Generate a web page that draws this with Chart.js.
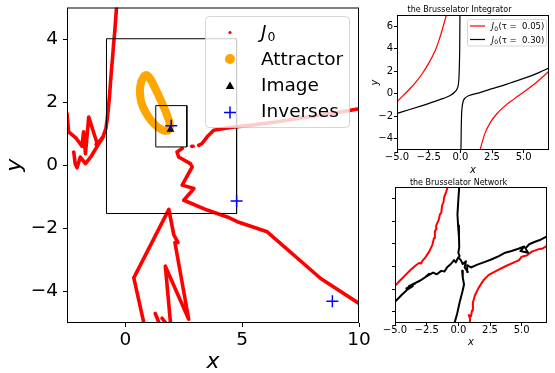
<!DOCTYPE html>
<html>
<head>
<meta charset="utf-8">
<script src="https://cdn.jsdelivr.net/npm/chart.js@4"></script>
<style>
html, body { margin: 0; padding: 0; background: #fff; }
body { width: 555px; height: 373px; position: relative; overflow: hidden; }
canvas { position: absolute; }
</style>
</head>
<body>
<canvas id="cMain" width="370" height="373" style="left:0px;top:0px;"></canvas>
<canvas id="cInt" width="185" height="175" style="left:370px;top:0px;"></canvas>
<canvas id="cNet" width="185" height="173" style="left:370px;top:174px;"></canvas>
<script>
// ---------------- data: main panel ----------------
const mainXTicks = [0, 5, 10];
const mainXTickLabels = ['0', '5', '10'];
const mainYTicks = [-4, -2, 0, 2, 4];
const mainYTickLabels = ['\u22124', '\u22122', '0', '2', '4'];
const mainLegendLabels = ['J0', 'Attractor', 'Image', 'Inverses'];

const j0UpperLeft = [[-0.38,5.0],[-0.42,4.6],[-0.46,4.2],[-0.51,3.8],[-0.55,3.4],[-0.6,3.0],[-0.64,2.6],[-0.68,2.2],[-0.73,1.8],[-0.78,1.45],[-0.84,1.15],[-0.95,0.92],[-1.1,0.76],[-1.25,0.66]];
const j0LeftZigzag = [[-2.5,1.64],[-2.43,1.06],[-2.1,0.85],[-1.86,0.6],[-1.79,1.06],[-1.71,0.37],[-1.57,1.53],[-1.21,0.69],[-1.0,0.84]];
const j0LeftLoop = [[-2.21,0.42],[-2.15,0.05],[-2.07,-0.08],[-1.93,0.26],[-1.71,0.05],[-1.45,0.3],[-1.21,0.6],[-0.95,0.9]];
const j0MiddleUpper = [[10.0,1.79],[9.3,1.7],[8.5,1.6],[7.5,1.5],[6.5,1.38],[5.5,1.28],[4.5,1.2],[3.78,1.11],[3.5,0.9],[3.28,0.69],[3.14,0.63]];
const j0MiddleDot = [[2.84,0.6],[2.9,0.6]];
const j0MiddleLower = [[2.43,0.53],[2.21,0.42],[2.28,0.26],[2.78,0.05],[2.86,-0.05],[2.43,-0.63],[2.93,-0.74],[2.5,-1.11],[3.5,-1.42],[4.36,-1.64],[4.79,-1.79],[6.07,-2.11],[8.36,-3.59],[10.0,-4.38]];
const j0Bottom = [[0.79,-5.0],[0.36,-3.57],[1.86,-1.40],[2.07,-2.2],[2.25,-2.45],[2.12,-2.45],[2.71,-4.88],[1.71,-3.2],[1.93,-5.0]];
const j0BottomBitA = [[1.28,-4.7],[1.43,-4.98]];
const j0BottomBitB = [[1.57,-4.85],[1.71,-4.98]];
const j0Segments = [j0UpperLeft, j0LeftZigzag, j0LeftLoop, j0MiddleUpper, j0MiddleDot, j0MiddleLower, j0Bottom, j0BottomBitA, j0BottomBitB];

const attractorLoop = [[0.8,2.82],[0.68,2.65],[0.62,2.35],[0.68,2.0],[0.85,1.7],[1.1,1.42],[1.4,1.2],[1.65,1.1],[1.85,1.12],[1.9,1.3],[1.78,1.6],[1.55,2.0],[1.3,2.4],[1.08,2.72],[0.92,2.86],[0.8,2.82]];
const imagePoints = [[1.93,1.13]];
const inversePoints = [[1.96,1.25],[4.76,-1.13],[8.86,-4.31]];
const bigBox = [[-0.81,4.01],[4.76,4.01],[4.76,-1.53],[-0.81,-1.53],[-0.81,4.01]];
const smallBox = [[1.3,1.89],[2.63,1.89],[2.63,0.58],[1.3,0.58],[1.3,1.89]];

// ---------------- data: integrator panel ----------------
const subXTicks = [-5, -2.5, 0, 2.5, 5];
const subXTickLabels = ['\u22125.0', '\u22122.5', '0.0', '2.5', '5.0'];
const subYTicks = [-4, -2, 0, 2, 4, 6];
const subYTickLabels = ['\u22124', '\u22122', '0', '2', '4', '6'];
const intLegendTaus = ['0.05', '0.30'];

const intRedLeft = [[-5,-0.71],[-4.5,-0.15],[-4,0.42],[-3.5,1.05],[-3,1.8],[-2.5,2.7],[-2,3.8],[-1.7,4.7],[-1.45,5.6],[-1.25,6.4],[-1.1,7.0]];
const intRedRight = [[1.55,-5],[1.95,-3.5],[2.4,-2.5],[2.87,-1.8],[3.5,-1.1],[4.2,-0.5],[5,0.15],[6,1.0],[7,2.0]];
const intBlackLeft = [[-5,-1.74],[-4,-1.4],[-3,-1.05],[-2,-0.68],[-1.34,-0.41],[-0.8,-0.15],[-0.42,0.18],[-0.25,0.45],[-0.16,0.8],[-0.11,1.4],[-0.08,2.3],[-0.05,4.0],[-0.03,7]];
const intBlackRight = [[0.05,-5],[0.07,-3.2],[0.1,-1.8],[0.15,-1.1],[0.25,-0.6],[0.37,-0.38],[0.7,-0.15],[1.55,0.1],[2.5,0.45],[3.4,0.75],[4.3,1.1],[5.24,1.45],[6.2,1.88],[7,2.3]];

// ---------------- data: network panel ----------------
const netRedLeft = [[-5,-1.72],[-4.6,-1.25],[-4.2,-0.8],[-3.8,-0.35],[-3.4,0.05],[-3.1,0.3],[-2.95,0.25],[-2.85,0.45],[-2.6,0.8],[-2.3,1.3],[-2.05,1.9],[-1.92,2.5],[-1.85,3.1],[-1.72,3.3],[-1.75,3.6],[-1.55,4.1],[-1.45,4.6],[-1.35,4.7],[-1.28,5.4],[-1.18,5.6],[-1.12,6.1],[-0.95,6.6],[-0.85,7]];
const netRedRight = [[0.85,-5],[0.92,-4.6],[0.82,-4.3],[1.0,-4.4],[1.08,-3.9],[1.15,-3.2],[1.3,-2.6],[1.6,-1.9],[2.0,-1.2],[2.4,-0.75],[3.0,-0.4],[3.8,0.05],[4.4,0.35],[4.8,0.55],[5.0,0.85],[5.4,0.95],[5.8,1.3],[6.3,1.5],[6.6,1.55],[7,1.8]];
const netBlackTop = [[0.07,7],[0.02,6.2],[-0.07,4.6],[-0.02,3.6],[0.05,2.6],[0.07,1.7],[0.0,1.2],[0.1,0.9]];
const netBlackBottom = [[0.3,-0.4],[0.35,-1.0],[0.45,-1.6],[0.33,-2.2],[0.1,-3.2],[-0.1,-4.2],[-0.3,-5]];
const netBlackAcross = [[-5,-3.12],[-4.5,-2.55],[-4.06,-2.09],[-3.6,-1.75],[-4.1,-1.95],[-3.4,-1.5],[-3.9,-1.75],[-3.0,-1.25],[-2.6,-0.95],[-2.3,-0.65],[-2.55,-0.9],[-2.0,-0.55],[-1.7,-0.7],[-1.35,-0.4],[-1.1,-0.45],[-0.86,-0.05],[-0.55,0.25],[-0.34,0.55],[-0.2,0.35],[0.0,0.8],[0.2,0.55],[0.35,0.2],[0.6,0.45],[0.5,-0.1],[0.75,-0.5],[0.7,0.1],[1.0,-0.1],[1.5,0.15],[2.0,0.35],[2.6,0.6],[3.2,0.9],[3.7,1.2],[4.2,1.35],[4.74,1.55],[5.2,1.75],[4.9,1.35],[5.5,1.2],[5.3,1.6],[5.6,1.95],[6.0,2.15],[6.5,2.35],[7,2.65]];

// ---------------- helpers ----------------
const FONT = "'DejaVu Sans', sans-serif";
const RED = '#ff0000', ORANGE = '#ffa500', BLUE = '#0000ff', BLACK = '#000000';
const pts = a => a.map(([x, y]) => ({x, y}));

function lineDs(label, arr, color, width, extra) {
  return Object.assign({
    label, data: pts(arr), showLine: true, borderColor: color, backgroundColor: color,
    borderWidth: width, pointRadius: 0, pointHoverRadius: 0, fill: false, clip: 0,
    borderJoinStyle: 'round', borderCapStyle: 'round', tension: 0
  }, extra || {});
}

function axis(o) {
  return {
    type: 'linear', min: o.min, max: o.max,
    afterBuildTicks: s => { s.ticks = o.ticks.map(v => ({value: v})); },
    afterFit: s => {
      if (o.horizontal) s.height = o.size; else s.width = o.size;
      s.paddingLeft = 0; s.paddingRight = 0; s.paddingTop = 0; s.paddingBottom = 0;
    },
    ticks: {
      autoSkip: false, maxRotation: 0, minRotation: 0, color: o.labelColor || BLACK,
      font: {family: FONT, size: o.fontSize, lineHeight: 1}, padding: o.pad,
      callback: v => { const i = o.ticks.indexOf(v); return i < 0 ? '' : o.labels[i]; }
    },
    grid: {drawOnChartArea: false, drawTicks: true, tickLength: o.tickLen, color: BLACK, lineWidth: 1},
    border: {display: false},
    title: o.title ? {display: true, text: o.title, color: BLACK,
      font: {family: FONT, size: o.titleSize, style: 'italic', lineHeight: 1}, padding: o.titlePad}
      : {display: false}
  };
}

const framePlugin = {
  id: 'frame',
  afterDatasetsDraw(chart) {
    const {ctx, chartArea: a} = chart;
    ctx.save();
    ctx.strokeStyle = BLACK; ctx.lineWidth = 1;
    ctx.strokeRect(a.left + 0.5, a.top + 0.5, a.right - a.left - 1, a.bottom - a.top - 1);
    ctx.restore();
  }
};

function roundRect(ctx, x, y, w, h, r) {
  ctx.beginPath();
  ctx.moveTo(x + r, y);
  ctx.lineTo(x + w - r, y); ctx.arcTo(x + w, y, x + w, y + r, r);
  ctx.lineTo(x + w, y + h - r); ctx.arcTo(x + w, y + h, x + w - r, y + h, r);
  ctx.lineTo(x + r, y + h); ctx.arcTo(x, y + h, x, y + h - r, r);
  ctx.lineTo(x, y + r); ctx.arcTo(x, y, x + r, y, r);
  ctx.closePath();
}

const mainLegend = {
  id: 'mainLegend',
  afterDatasetsDraw(chart) {
    const ctx = chart.ctx;
    ctx.save();
    roundRect(ctx, 205.5, 16.5, 144, 111, 4);
    ctx.fillStyle = 'rgba(255,255,255,0.8)'; ctx.fill();
    ctx.strokeStyle = 'rgba(204,204,204,0.8)'; ctx.lineWidth = 1; ctx.stroke();
    const mx = 230;
    // J0 marker: small red dot
    ctx.fillStyle = RED; ctx.beginPath(); ctx.arc(mx, 32.5, 1.6, 0, Math.PI * 2); ctx.fill();
    // Attractor marker: orange circle
    ctx.fillStyle = ORANGE; ctx.beginPath(); ctx.arc(mx, 59, 5, 0, Math.PI * 2); ctx.fill();
    // Image marker: black triangle
    ctx.fillStyle = BLACK; ctx.beginPath();
    ctx.moveTo(mx, 81.5); ctx.lineTo(mx + 4.3, 89); ctx.lineTo(mx - 4.3, 89); ctx.closePath(); ctx.fill();
    // Inverses marker: blue plus
    ctx.strokeStyle = BLUE; ctx.lineWidth = 1.5; ctx.beginPath();
    ctx.moveTo(mx - 6, 112.5); ctx.lineTo(mx + 6, 112.5); ctx.moveTo(mx, 106.5); ctx.lineTo(mx, 118.5); ctx.stroke();
    // labels
    ctx.fillStyle = BLACK; ctx.textAlign = 'left'; ctx.textBaseline = 'alphabetic';
    const tx = 261;
    ctx.font = `italic 18.5px ${FONT}`;
    ctx.fillText(mainLegendLabels[0].charAt(0), tx, 38);
    const wj = ctx.measureText(mainLegendLabels[0].charAt(0)).width;
    ctx.font = `12.5px ${FONT}`;
    ctx.fillText(mainLegendLabels[0].charAt(1), tx + wj + 1, 41);
    ctx.font = `18.5px ${FONT}`;
    ctx.fillText(mainLegendLabels[1], tx, 65);
    ctx.fillText(mainLegendLabels[2], tx, 90.5);
    ctx.fillText(mainLegendLabels[3], tx, 116.5);
    ctx.restore();
  }
};

const intLegend = {
  id: 'intLegend',
  afterDatasetsDraw(chart) {
    const ctx = chart.ctx;
    ctx.save();
    roundRect(ctx, 97.5, 19.5, 79, 26.5, 2);
    ctx.fillStyle = 'rgba(255,255,255,0.8)'; ctx.fill();
    ctx.strokeStyle = 'rgba(204,204,204,0.8)'; ctx.lineWidth = 1; ctx.stroke();
    const rows = [[26, RED], [39.5, BLACK]];
    rows.forEach(([y, c], i) => {
      ctx.strokeStyle = c; ctx.lineWidth = 1.2;
      ctx.beginPath(); ctx.moveTo(100, y); ctx.lineTo(115, y); ctx.stroke();
      ctx.fillStyle = BLACK; ctx.textAlign = 'left'; ctx.textBaseline = 'alphabetic';
      let x = 121.5;
      ctx.font = `italic 8.5px ${FONT}`; ctx.fillText('J', x, y + 3); x += ctx.measureText('J').width + 0.3;
      ctx.font = `6px ${FONT}`; ctx.fillText('0', x, y + 4.5); x += ctx.measureText('0').width + 0.3;
      ctx.font = `8.5px ${FONT}`; ctx.fillText('(\u03C4 =  ' + intLegendTaus[i] + ')', x, y + 3);
    });
    ctx.restore();
  }
};

const common = {
  responsive: false, animation: false, events: [],
  plugins: {legend: {display: false}, tooltip: {enabled: false}}
};

// ---------------- main chart ----------------
const mainDatasets = [
  {label: mainLegendLabels[3], data: pts(inversePoints), showLine: false, pointStyle: 'cross',
   pointRadius: 6, borderColor: BLUE, backgroundColor: BLUE, borderWidth: 1.5, clip: 0},
  {label: mainLegendLabels[2], data: pts(imagePoints), showLine: false, pointStyle: 'triangle',
   pointRadius: 4.5, borderColor: BLACK, backgroundColor: BLACK, borderWidth: 0, clip: 0},
  lineDs('box-small', smallBox, BLACK, 1, {borderJoinStyle: 'miter', borderCapStyle: 'butt'}),
  lineDs(mainLegendLabels[1], attractorLoop, ORANGE, 8, {tension: 0.35}),
  lineDs('box-big', bigBox, BLACK, 1, {borderJoinStyle: 'miter', borderCapStyle: 'butt'}),
  ...j0Segments.map(seg => lineDs(mainLegendLabels[0], seg, RED, 3.6))
];

new Chart(document.getElementById('cMain'), {
  type: 'scatter',
  data: {datasets: mainDatasets},
  options: Object.assign({}, common, {
    layout: {padding: {left: 0, right: 11, top: 7, bottom: 0}},
    scales: {
      x: axis({min: -2.5, max: 10, ticks: mainXTicks, labels: mainXTickLabels, fontSize: 18.5, tickLen: 4, pad: 4,
               title: 'x', titleSize: 22, titlePad: {top: 0, bottom: 0}, size: 50, horizontal: true}),
      y: axis({min: -5, max: 5, ticks: mainYTicks, labels: mainYTickLabels, fontSize: 18.5, tickLen: 4, pad: 5,
               title: 'y', titleSize: 22, titlePad: {top: 4, bottom: 0}, size: 67})
    }
  }),
  plugins: [framePlugin, mainLegend]
});

// ---------------- integrator chart ----------------
new Chart(document.getElementById('cInt'), {
  type: 'scatter',
  data: {datasets: [
    lineDs('tau 0.05', intRedLeft, RED, 1.2, {cubicInterpolationMode: 'monotone'}),
    lineDs('tau 0.05', intRedRight, RED, 1.2, {cubicInterpolationMode: 'monotone'}),
    lineDs('tau 0.30', intBlackLeft, BLACK, 1.2, {cubicInterpolationMode: 'monotone'}),
    lineDs('tau 0.30', intBlackRight, BLACK, 1.2, {cubicInterpolationMode: 'monotone'})
  ]},
  options: Object.assign({}, common, {
    layout: {padding: {left: 0, right: 6, top: 0, bottom: 0}},
    plugins: Object.assign({}, common.plugins, {
      title: {display: true, text: 'the Brusselator Integrator', color: BLACK,
              font: {family: FONT, size: 8, weight: 'normal', lineHeight: 1}, padding: {top: 6, bottom: 1}}
    }),
    scales: {
      x: axis({min: -5, max: 7, ticks: subXTicks, labels: subXTickLabels, fontSize: 10, tickLen: 3, pad: -1,
               title: 'x', titleSize: 10, titlePad: {top: 0, bottom: 0}, size: 25, horizontal: true}),
      y: axis({min: -5, max: 7, ticks: subYTicks, labels: subYTickLabels, fontSize: 10, tickLen: 3, pad: 1,
               title: 'y', titleSize: 10, titlePad: {top: 0, bottom: 0}, size: 27})
    }
  }),
  plugins: [framePlugin, intLegend]
});

// ---------------- network chart ----------------
new Chart(document.getElementById('cNet'), {
  type: 'scatter',
  data: {datasets: [
    lineDs('net black', netBlackAcross, BLACK, 2),
    lineDs('net black', netBlackTop, BLACK, 2),
    lineDs('net black', netBlackBottom, BLACK, 2),
    lineDs('net red', netRedLeft, RED, 2),
    lineDs('net red', netRedRight, RED, 2)
  ]},
  options: Object.assign({}, common, {
    layout: {padding: {left: 0, right: 8, top: 0, bottom: 0}},
    plugins: Object.assign({}, common.plugins, {
      title: {display: true, text: 'the Brusselator Network', color: BLACK,
              font: {family: FONT, size: 8, weight: 'normal', lineHeight: 1}, padding: {top: 5, bottom: 0}}
    }),
    scales: {
      x: axis({min: -5, max: 7, ticks: subXTicks, labels: subXTickLabels, fontSize: 10, tickLen: 3, pad: -1,
               title: 'x', titleSize: 10, titlePad: {top: 0, bottom: 0}, size: 24, horizontal: true}),
      y: axis({min: -5, max: 7, ticks: subYTicks, labels: subYTickLabels, fontSize: 10, tickLen: 3, pad: 1,
               size: 25, labelColor: 'rgba(0,0,0,0)'})
    }
  }),
  plugins: [framePlugin]
});
</script>
</body>
</html>
